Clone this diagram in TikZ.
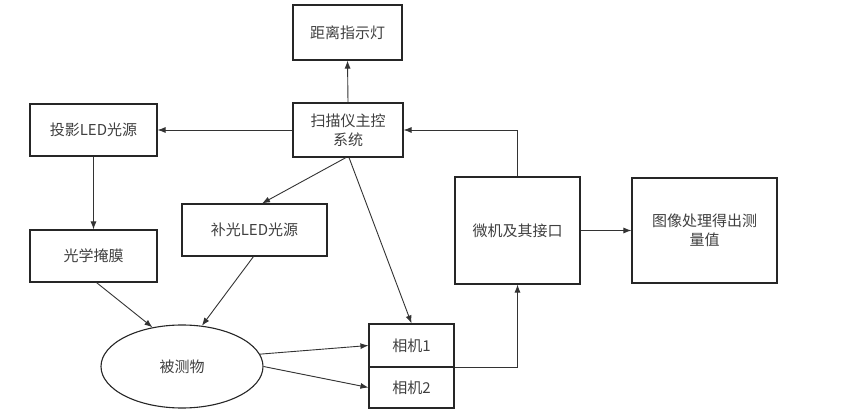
\documentclass[tikz,border=0pt]{standalone}
\usepackage{fontspec}
\setmainfont{Noto Sans CJK SC}
\usetikzlibrary{shapes.geometric,arrows.meta}
\begin{document}
\begin{tikzpicture}[x=1pt,y=-1pt,
  box/.style={draw=black!85,line width=1.1pt,fill=white,text=black!75,font=\fontsize{15}{19}\selectfont,align=center,inner sep=0pt},
  arr/.style={draw=black!80,line width=0.9pt,-{Latex[length=8pt,width=6pt]}}]
\useasboundingbox (0,0) rectangle (865,414);
\node[box,minimum width=109,minimum height=55] (dist) at (347.5,32.5) {距离指示灯};
\node[box,minimum width=110,minimum height=54] (ctrl) at (348,130) {扫描仪主控\\系统};
\node[box,minimum width=127,minimum height=52] (proj) at (93.5,130) {投影LED光源};
\node[box,minimum width=127,minimum height=52] (mask) at (93.5,256) {光学掩膜};
\node[box,minimum width=145,minimum height=52] (fill) at (254.5,230) {补光LED光源};
\node[box,ellipse,minimum width=162,minimum height=83] (obj) at (182,366.5) {被测物};
\node[box,minimum width=85,minimum height=43] (cam1) at (411.5,345.5) {相机1};
\node[box,minimum width=85,minimum height=41] (cam2) at (411.5,387.5) {相机2};
\node[box,minimum width=125,minimum height=107] (pc) at (517.5,230.5) {微机及其接口};
\node[box,minimum width=145,minimum height=105] (img) at (704.5,230.5) {图像处理得出测\\量值};
\draw[arr] (ctrl.north) -- (dist.south);
\draw[arr] (ctrl.west) -- (proj.east);
\draw[arr] (proj.south) -- (mask.north);
\draw[arr] ([xshift=-2pt]ctrl.south) -- ([xshift=7.5pt]fill.north);
\draw[arr] ([xshift=1pt]ctrl.south) -- (cam1.north);
\draw[arr] ([xshift=3pt]mask.south) -- (obj.127);
\draw[arr] ([xshift=-1pt]fill.south) -- (obj.64);
\draw[arr] (obj.9) -- (cam1.west);
\draw[arr] (obj.east) -- (cam2.west);
\draw[arr] (cam1.south east) -| (pc.south);
\draw[arr] (pc.north) |- (ctrl.east);
\draw[arr] (pc.east) -- (img.west);
\end{tikzpicture}
\end{document}
